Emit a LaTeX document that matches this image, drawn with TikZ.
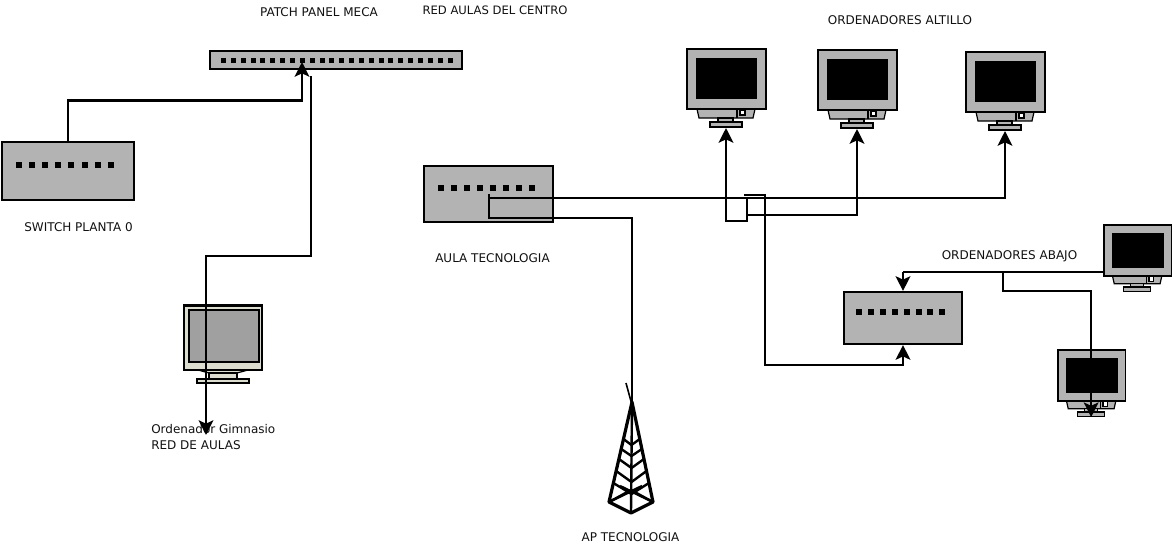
\documentclass[tikz,border=0pt]{standalone}
\usepackage{fontspec}
\setmainfont{DejaVu Sans}
\usetikzlibrary{arrows.meta}

\definecolor{boxgray}{HTML}{B3B3B3}
\definecolor{gymscreen}{HTML}{A0A0A0}
\definecolor{gymbody}{HTML}{DCDCCF}
\definecolor{labelgray}{HTML}{111111}

\tikzset{
    swbox/.style={draw, fill=boxgray, line width=1.6pt, inner sep=0pt},
    link/.style={draw, line width=1.8pt},
    arrowlink/.style={link, -{Stealth[length=11pt, width=11pt, inset=2.5pt]}},
    lbl/.style={font=\fontsize{9}{12}\selectfont, text=labelgray, inner sep=0pt},
    port/.style={fill=black},
    monitor/.pic={
        % stand and base first, the body goes over them
        \draw[fill=boxgray, line width=.9pt] (10,60) -- (12,69) -- (66,69) -- (68,60) -- cycle;
        \draw[fill=boxgray, line width=.9pt] (31,69) rectangle (46,73);
        \draw[fill=boxgray, line width=.9pt] (23,73) rectangle (55,78);
        \draw[line width=.9pt] (50,60) -- (50,69);
        \draw[fill=white, line width=.9pt] (53,61) rectangle (58,66);
        \draw[fill=boxgray, line width=.9pt] (0,0) rectangle (79,60);
        \fill[black] (9,9) rectangle (70,50);
        \coordinate (-left) at (0,32);
        \coordinate (-base) at (39,79);
    }
}

\begin{document}
\begin{tikzpicture}[x=0.75pt, y=-0.75pt]
    \useasboundingbox (0,0) rectangle (1172,547);

    % Patch panel and switches
    \node[swbox, minimum width=188.5pt, minimum height=13.5pt] (patch) at (336,60) {};
    \foreach \i in {0,...,23}
        \fill[port] ({221+\i*9.85},57.5) rectangle ++(5,5);
    \coordinate (patchIn) at (302,62);
    \coordinate (patchOut) at (311,76);

    \node[swbox, minimum width=99pt, minimum height=43.5pt] (swPlanta) at (68,171) {};
    \foreach \i in {0,...,7}
        \fill[port] ({16+\i*13.1},162) rectangle ++(6,6);

    \node[swbox, minimum width=96.5pt, minimum height=42pt] (swAula) at (488.5,194) {};
    \foreach \i in {0,...,7}
        \fill[port] ({438+\i*13},185) rectangle ++(6,6);
    \coordinate (aulaA) at (489,194);
    \coordinate (aulaB) at (489,198);

    \node[swbox, minimum width=88.5pt, minimum height=39pt] (swAbajo) at (903,318) {};
    \foreach \i in {0,...,7}
        \fill[port] ({856+\i*11.9},309) rectangle ++(6,6);

    % Monitors
    \pic (altA) at (687,49) {monitor};
    \pic (altB) at (818,50) {monitor};
    \pic (altC) at (966,52) {monitor};
    \pic[scale=0.85] (abaA) at (1104,225) {monitor};
    \pic[scale=0.85] (abaB) at (1058,350) {monitor};

    % Gym monitor
    \draw[fill=gymbody, line width=.9pt] (198,370) -- (209,373) -- (237,373) -- (248,370) -- cycle;
    \draw[fill=gymbody, line width=.9pt] (209,373) rectangle (237,379);
    \draw[fill=gymbody, line width=1.2pt] (197,379) rectangle (249,383);
    \draw[fill=gymbody, line width=1.6pt] (184,305.5) rectangle (262,370);
    \draw[fill=gymscreen, line width=1.6pt] (189,310) rectangle (259,362);
    \coordinate (gymIn) at (206,435);

    % Antenna tower
    \draw[line width=1.2pt] (626,383) -- (632,405);
    \draw[line width=2.4pt, line join=round] (609,502) -- (632,402) -- (653,502) -- (631,513) -- cycle;
    \draw[line width=1.8pt] (632,402) -- (631,513);
    \draw[line width=1.8pt] (609,502) -- (631,490) -- (653,502);
    \draw[line width=1.8pt] (609,502) -- (642,486);
    \draw[line width=1.8pt] (653,502) -- (620,486);
    \foreach \ya/\yb in {439/445, 449/456, 459/468, 471/482, 483/494}
        \draw[line width=1.8pt] ({632-(\ya-402)*0.23},\ya) -- (631.5,\yb) -- ({632+(\ya-402)*0.21},\ya);
    \coordinate (apIn) at (632,405);

    % Labels
    \node[lbl] (lblPatch) at (319,12.5) {PATCH PANEL MECA};
    \node[lbl, font=\fontsize{8.7}{11}\selectfont] (lblRed) at (495,10.5) {RED AULAS DEL CENTRO};
    \node[lbl] (lblAltillo) at (900,20.5) {ORDENADORES ALTILLO};
    \node[lbl] (lblPlanta) at (78.5,227) {SWITCH PLANTA 0};
    \node[lbl] (lblAula) at (492.5,258.5) {AULA TECNOLOGIA};
    \node[lbl] (lblAbajo) at (1009.5,256) {ORDENADORES ABAJO};
    \node[lbl, anchor=north west, align=left] (lblGym) at (151,424.5) {Ordenador Gimnasio\\RED DE AULAS};
    \node[lbl] (lblAp) at (630.5,537.5) {AP TECNOLOGIA};

    % Connectors
    \draw[arrowlink] (swPlanta.north) -- (68,100.5) -| (patchIn);
    \draw[arrowlink] (patchOut) -- (311,256) -- (206,256) -- (gymIn);
    \draw[link] (aulaA) -- (489,218) -| (apIn);
    \draw[arrowlink] (aulaB) -| (altC-base);
    \draw[arrowlink] (747,198) -- (747,221) -| (altA-base);
    \draw[arrowlink] (747,215) -| (altB-base);
    \draw[arrowlink] (744,195) -- (765,195) -- (765,365) -| (swAbajo.south);
    \draw[link] (abaA-left) -- (1104,272) -- (903,272);
    \draw[arrowlink] (903,272) -- (swAbajo.north);
    \draw[arrowlink] (1003,272) -- (1003,291) -| (abaB-base);
\end{tikzpicture}
\end{document}
